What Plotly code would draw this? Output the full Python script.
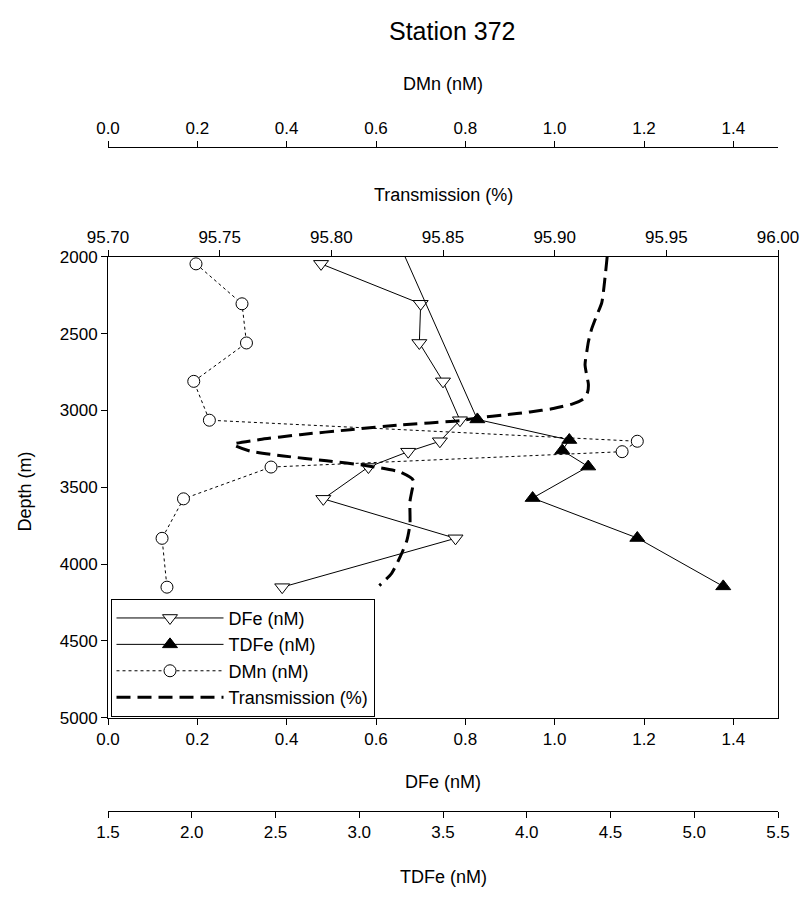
import plotly.graph_objects as go

# ---------------- data ----------------
depth = [2045, 2305, 2560, 2810, 3063, 3200, 3268, 3368, 3575, 3832, 4150]
dfe = [0.477, 0.700, 0.697, 0.750, 0.788, 0.743, 0.672, 0.583, 0.482, 0.778, 0.390]
dmn = [0.197, 0.300, 0.310, 0.192, 0.227, 1.185, 1.151, 0.365, 0.169, 0.121, 0.132]

tdfe_depth = [1500, 3058, 3192, 3260, 3365, 3570, 3830, 4145]
tdfe = [3.07, 3.705, 4.254, 4.212, 4.367, 4.035, 4.660, 5.173]

trans_depth = [2000, 2127, 2297, 2382, 2467, 2552, 2616, 2700, 2775, 2828, 2882, 2924,
               2955, 2987, 3009, 3030, 3045, 3066, 3094, 3125, 3157, 3189, 3221, 3264,
               3296, 3327, 3359, 3401, 3455, 3529, 3592, 3741, 3847, 3953, 4060, 4140]
trans = [95.9235, 95.9226, 95.9211, 95.9188, 95.9166, 95.9151, 95.9144, 95.9136, 95.9144,
         95.9151, 95.9147, 95.9129, 95.9084, 95.8994, 95.8890, 95.8770, 95.8670, 95.8576,
         95.8308, 95.8084, 95.7860, 95.7681, 95.7561, 95.7636, 95.7785, 95.7979, 95.8158,
         95.8308, 95.8367, 95.8360, 95.8352, 95.8352, 95.8338, 95.8308, 95.8270, 95.8215]

dfe_ticks = [0.0, 0.2, 0.4, 0.6, 0.8, 1.0, 1.2, 1.4]
tdfe_ticks = [1.5, 2.0, 2.5, 3.0, 3.5, 4.0, 4.5, 5.0, 5.5]
trans_ticks = [95.70, 95.75, 95.80, 95.85, 95.90, 95.95, 96.00]
depth_ticks = [2000, 2500, 3000, 3500, 4000, 4500, 5000]

# ---------------- figure ----------------
W, H = 801, 899
FONT = "Arial, Liberation Sans, sans-serif"
TICKF = dict(family=FONT, size=17, color="black")

def py(pix):
    return (H - pix) / H

def px(pix):
    return (pix - 108) / 670

fig = go.Figure()

fig.add_trace(go.Scatter(
    x=dfe, y=depth, name="DFe (nM)", mode="lines+markers",
    line=dict(color="black", width=1),
    marker=dict(symbol="triangle-down", size=13, color="white",
                line=dict(color="black", width=1)),
    xaxis="x", yaxis="y"))

fig.add_trace(go.Scatter(
    x=tdfe, y=tdfe_depth, name="TDFe (nM)", mode="lines+markers",
    line=dict(color="black", width=1),
    marker=dict(symbol="triangle-up", size=13, color="black",
                line=dict(color="black", width=1)),
    xaxis="x2", yaxis="y"))

fig.add_trace(go.Scatter(
    x=dmn, y=depth, name="DMn (nM)", mode="lines+markers",
    line=dict(color="black", width=1, dash="dot"),
    marker=dict(symbol="circle", size=12, color="white",
                line=dict(color="black", width=1)),
    xaxis="x3", yaxis="y"))

fig.add_trace(go.Scatter(
    x=trans, y=trans_depth, name="Transmission (%)", mode="lines",
    line=dict(color="black", width=3, dash="14px,7px", shape="spline", smoothing=0.6),
    xaxis="x4", yaxis="y"))

common = dict(showgrid=False, zeroline=False, showline=True, linecolor="black",
              linewidth=1, ticks="outside", ticklen=6, tickcolor="black",
              tickfont=TICKF)

y_lo, y_hi = py(724), py(253.3)

fig.update_layout(
    width=W, height=H,
    margin=dict(l=108, r=23, t=0, b=0),
    paper_bgcolor="white", plot_bgcolor="white",
    font=dict(family=FONT, color="black"),
    showlegend=True,
    legend=dict(x=px(110.5), y=py(602.5), xanchor="left", yanchor="top",
                bordercolor="black", borderwidth=1, bgcolor="white",
                font=dict(family=FONT, size=18, color="black"),
                tracegroupgap=0, itemwidth=107),
    xaxis=dict(domain=[0, 1], range=[0, 1.5], tickvals=dfe_ticks,
               tickformat=".1f", anchor="y", side="bottom", mirror=False, **common),
    xaxis2=dict(range=[1.5, 5.5], tickvals=tdfe_ticks, tickformat=".1f",
                overlaying="x", anchor="free", position=py(819.3), side="bottom", **common),
    xaxis3=dict(range=[0, 1.5], tickvals=dfe_ticks, tickformat=".1f",
                overlaying="x", anchor="free", position=py(141), side="top", **common),
    xaxis4=dict(range=[95.70, 96.00], tickvals=trans_ticks, tickformat=".2f",
                overlaying="x", anchor="y", side="top", **common),
    yaxis=dict(domain=[y_lo, y_hi], range=[5000, 2000], tickvals=depth_ticks,
               mirror=True, **common),
)

annots = [
    ("Station 372", px(452), py(22), 25, 0),
    ("DMn (nM)", px(443), py(77), 18, 0),
    ("Transmission (%)", px(443), py(190), 18, 0),
    ("DFe (nM)", px(443), py(790), 18, 0),
    ("TDFe (nM)", px(443), py(887), 18, 0),
    ("Depth (m)", px(25), py(493), 18, -90),
]
for text, x, y, size, ang in annots:
    fig.add_annotation(text=text, x=x, y=y, xref="paper", yref="paper",
                       xanchor="center", yanchor="middle", showarrow=False,
                       textangle=ang, font=dict(family=FONT, size=size, color="black"))

fig.write_html("out.html")
